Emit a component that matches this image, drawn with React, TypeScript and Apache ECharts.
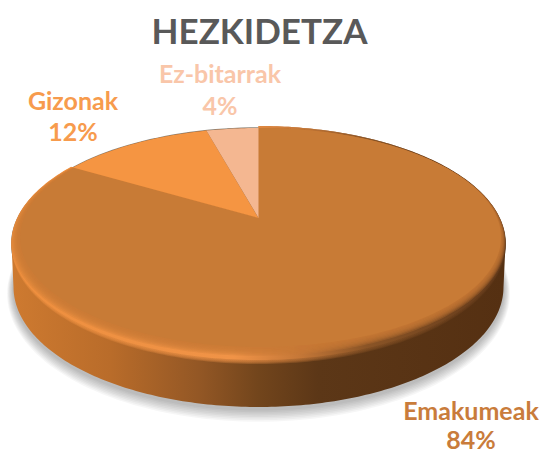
import React, { useEffect, useRef } from "react";
import * as echarts from "echarts";

const titleText = "HEZKIDETZA";
const categories = ["Emakumeak", "Gizonak", "Ez-bitarrak"];
const shares = [84, 12, 4];
const sliceColors = ["#C87B36", "#F59542", "#F4B791"];
const labelColors = ["#C97C3B", "#F79B4D", "#F9C6A9"];

const FONT = "Lato";
const labelPos = [
  [471, 410, 439],
  [73, 100, 131],
  [220, 73, 105],
];

const apex = { x: 258.5, y: 218 };
const face = { cx: 258.5, cy: 244, rx: 247, ry: 116 };
const inner = { cx: 260.5, cy: 237.5, rx: 240.5, ry: 109.5 };
const base = { cx: 258.5, cy: 287, rx: 245, ry: 120 };
const K = 0.43;

type Ell = { cx: number; cy: number; rx: number; ry: number };

const lerpEll = (a: Ell, b: Ell, t: number): Ell => ({
  cx: a.cx + (b.cx - a.cx) * t,
  cy: a.cy + (b.cy - a.cy) * t,
  rx: a.rx + (b.rx - a.rx) * t,
  ry: a.ry + (b.ry - a.ry) * t,
});

function rimPoint(f: number, e: Ell): number[] {
  const th = f * Math.PI * 2;
  const dx = Math.sin(th);
  const dy = -K * Math.cos(th);
  const ox = (apex.x - e.cx) / e.rx;
  const oy = (apex.y - e.cy) / e.ry;
  const ax = dx / e.rx;
  const ay = dy / e.ry;
  const A = ax * ax + ay * ay;
  const B = 2 * (ox * ax + oy * ay);
  const C = ox * ox + oy * oy - 1;
  const t = (-B + Math.sqrt(B * B - 4 * A * C)) / (2 * A);
  return [apex.x + dx * t, apex.y + dy * t];
}

function slicePoints(from: number, to: number, e: Ell): number[][] {
  const pts: number[][] = [[apex.x, apex.y]];
  const n = Math.max(4, Math.ceil((to - from) * 360));
  for (let i = 0; i <= n; i++) pts.push(rimPoint(from + ((to - from) * i) / n, e));
  return pts;
}

function ellipsePoints(e: Ell, a0: number, a1: number, n = 180): number[][] {
  const pts: number[][] = [];
  for (let i = 0; i <= n; i++) {
    const a = a0 + ((a1 - a0) * i) / n;
    pts.push([e.cx + e.rx * Math.cos(a), e.cy + e.ry * Math.sin(a)]);
  }
  return pts;
}

const hGrad = (stops: [number, string][]) => ({
  type: "linear",
  x: 0,
  y: 0,
  x2: 1,
  y2: 0,
  colorStops: stops.map(([offset, color]) => ({ offset, color })),
});

const bevelFill = hGrad([
  [0, "#EE8F3E"],
  [0.45, "#F09347"],
  [0.58, "#C67838"],
  [0.72, "#8A5426"],
  [1, "#62391A"],
]);

function renderSlice(params: any, api: any) {
  const i = params.dataIndex;
  const total = shares.reduce((a, b) => a + b, 0);
  const before = shares.slice(0, i).reduce((a, b) => a + b, 0);
  const from = before / total;
  const to = (before + api.value(0)) / total;
  const children: any[] = [];

  if (i === 0) {
    for (let j = 8; j >= 1; j--) {
      children.push({
        type: "polygon",
        shape: {
          points: ellipsePoints(
            { cx: base.cx, cy: base.cy + 2 + j * 0.6, rx: base.rx + j * 0.8, ry: base.ry + j },
            0,
            Math.PI * 2,
          ),
        },
        style: { fill: "rgba(0,0,0,0.035)" },
      });
    }
    children.push({
      type: "polygon",
      shape: { points: ellipsePoints({ ...face, rx: face.rx + 0.5, ry: face.ry + 0.7 }, 0, Math.PI * 2) },
      style: { fill: "#8d8478" },
    });
    children.push({
      type: "polygon",
      shape: {
        points: [
          ...ellipsePoints(base, 0, Math.PI),
          ...ellipsePoints(face, Math.PI, Math.PI * 2),
        ],
      },
      style: {
        fill: hGrad([
          [0, "#CE7A30"],
          [0.2, "#B96C2A"],
          [0.38, "#935725"],
          [0.5, "#72451C"],
          [0.62, "#5C3717"],
          [1, "#553012"],
        ]),
      },
    });
    // soft outer edge of the bevel
    for (let j = 4; j >= 0; j--) {
      const grow = j * 1.0;
      children.push({
        type: "polygon",
        shape: {
          points: slicePoints(from, to, { ...face, cy: face.cy + grow / 2 - 1, ry: face.ry + grow / 2 + 1 }),
        },
        style: { fill: bevelFill, opacity: j === 0 ? 1 : 0.3 },
      });
    }
    // soft inner edge, from the ridge to the flat face
    const steps = 7;
    for (let j = 0; j <= steps; j++) {
      const t = j / steps;
      children.push({
        type: "polygon",
        shape: { points: slicePoints(from, to, lerpEll({ ...face, cy: face.cy - 2, ry: face.ry - 2 }, inner, t)) },
        style: { fill: sliceColors[i], opacity: j === steps ? 1 : 0.28 },
      });
    }
  } else {
    children.push({
      type: "polygon",
      shape: { points: slicePoints(from, to, face) },
      style: { fill: sliceColors[i] },
    });
  }

  const [lx, y1, y2] = labelPos[i];
  const font = `bold 25px ${FONT}`;
  children.push({
    type: "text",
    style: { text: categories[i], x: lx, y: y1, textAlign: "center", textVerticalAlign: "middle", font, fill: labelColors[i] },
  });
  children.push({
    type: "text",
    style: { text: `${api.value(0)}%`, x: lx, y: y2, textAlign: "center", textVerticalAlign: "middle", font, fill: labelColors[i] },
  });
  return { type: "group", children };
}

export default function App() {
  const ref = useRef<HTMLDivElement>(null);
  useEffect(() => {
    document.body.style.margin = "0";
    const chart = echarts.init(ref.current!, null, { renderer: "svg" });
    chart.setOption({
      animation: false,
      backgroundColor: "#ffffff",
      title: {
        text: titleText,
        left: 254.5,
        top: 7,
        textAlign: "center",
        textStyle: { fontFamily: FONT, fontWeight: "bold", fontSize: 35, color: "#595959" },
      },
      series: [
        {
          type: "custom",
          coordinateSystem: "none",
          silent: true,
          renderItem: renderSlice,
          data: shares.map((v, i) => ({ name: categories[i], value: [v] })),
        },
      ],
    });
    return () => chart.dispose();
  }, []);
  return <div ref={ref} style={{ width: 543, height: 452 }} />;
}
